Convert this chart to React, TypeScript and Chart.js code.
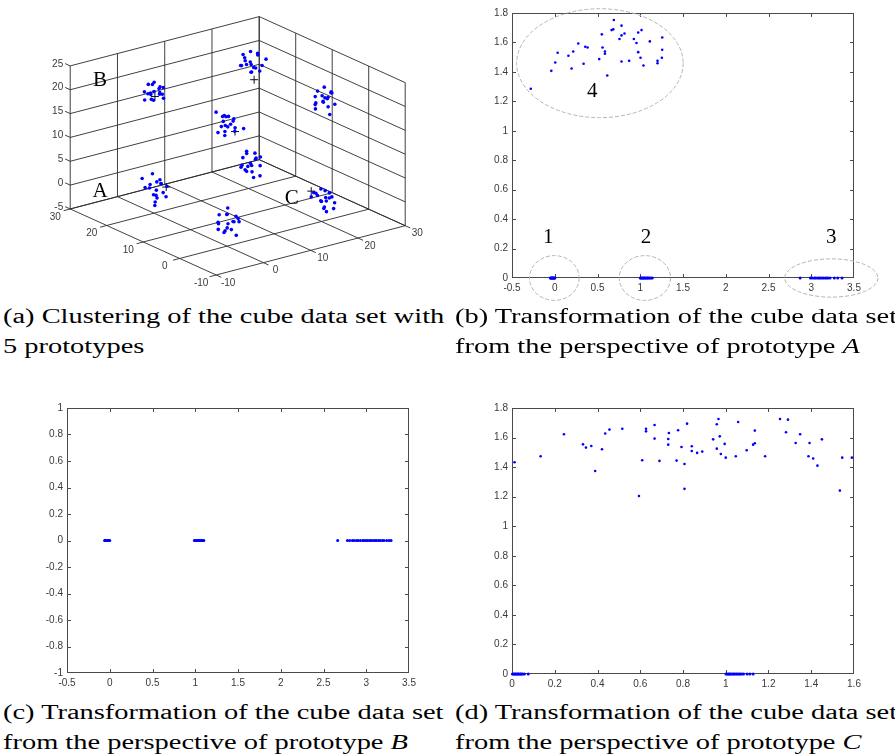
import React, { useEffect, useRef, useMemo } from "react";
import { Chart, registerables } from "chart.js";
Chart.register(...registerables);

// ---------------- DATA ----------------
// (a) 3-D cube data set: eight clusters (x, y, z)
const clusterA = [[-1.2,19.5,1.5],[0.3,20.8,2.9],[0.9,19.2,1.2],[-0.5,18.7,0.4],[1.8,20.4,0.6],[0.2,21.5,-0.3],[-1.8,20.1,0.8],[1.1,18.9,-0.6],[0.6,20.2,-1.5],[-0.4,19.6,-0.9],[2.4,19.8,-2.1],[1.5,21.1,-2.6],[-0.9,18.5,-1.9],[0.1,19.9,-3.4],[3.2,20.6,-0.4],[-1.5,21.3,2.2],[0.8,19.4,2.0],[1.3,20.9,0.9]];
const clusterO = [[0.4,0.3,2.8],[-0.6,-0.8,2.1],[0.9,1.2,1.0],[-1.5,0.5,0.2],[0.2,-1.4,0.6],[1.8,0.4,-0.5],[-0.4,1.8,-0.8],[0.7,-0.3,-1.6],[-1.1,-0.9,-1.2],[2.1,-0.6,-0.2],[0.0,0.8,-2.4],[1.2,1.5,-2.0],[-2.0,-0.2,-0.9],[0.5,-1.9,-2.2],[1.5,-1.1,0.8],[-0.8,1.1,1.4],[2.6,0.9,0.3],[0.3,0.1,-0.4]];
const clusterC = [[20.5,0.8,1.4],[21.2,-0.6,0.9],[19.4,0.3,0.5],[20.1,-1.2,-0.3],[21.8,0.2,-0.6],[19.0,1.5,-0.1],[20.7,1.1,-1.2],[22.4,-0.5,-1.5],[19.8,-0.9,-1.9],[21.0,0.5,-2.4],[20.3,1.9,0.2],[22.9,0.9,-0.9],[19.5,-1.8,0.8],[21.5,-1.4,-2.2],[20.0,0.0,-0.8],[18.9,0.7,1.1],[22.0,1.6,0.4],[20.9,-0.2,-3.1]];
const clusterD = [[19.2,20.5,1.5],[20.4,21.0,1.9],[21.3,19.6,1.2],[19.8,19.2,0.6],[22.1,20.8,0.3],[18.7,20.1,0.2],[20.9,20.3,-0.5],[21.7,19.0,-0.3],[19.5,21.4,-0.9],[20.6,19.8,-1.6],[22.6,20.1,0.9],[20.0,18.6,-2.2],[21.1,21.6,-1.2],[18.9,19.5,-0.6],[21.9,19.3,-2.6],[20.3,20.9,2.4],[19.6,20.0,-1.3],[22.3,21.2,1.4]];
const clusterE = [[-1.6,0.9,23.2],[-0.5,-0.4,22.4],[0.8,0.6,21.8],[-1.2,-1.1,21.0],[1.6,0.2,21.2],[0.3,1.4,20.6],[-0.8,0.5,20.1],[1.1,-0.8,19.8],[-1.9,0.0,19.3],[0.5,-1.5,19.5],[2.0,0.9,20.4],[-0.2,0.3,19.0],[1.4,1.6,19.1],[-1.0,-0.7,18.7],[3.3,-0.3,18.9],[0.0,-1.0,20.9],[0.9,1.9,21.5],[-0.3,0.8,22.0]];
const clusterB = [[-0.8,19.4,22.4],[0.5,20.6,22.1],[-0.2,21.3,21.6],[1.2,19.9,21.2],[-1.5,19.0,20.9],[0.3,18.8,20.6],[1.7,20.8,20.4],[-0.9,20.5,20.1],[0.8,19.5,19.9],[-2.2,19.7,19.4],[0.1,21.0,19.5],[1.4,19.2,19.0],[-0.4,20.2,18.9],[2.0,20.3,19.3],[0.6,20.9,18.2],[-1.1,21.2,20.3],[0.9,18.6,21.6],[-0.3,19.6,20.7]];
const clusterF = [[19.4,20.7,23.0],[20.6,20.2,23.5],[21.5,19.4,22.8],[19.0,19.6,22.2],[20.2,21.3,21.9],[22.4,20.6,22.5],[19.8,19.0,21.4],[21.0,20.8,21.0],[18.6,20.1,21.1],[20.9,19.2,20.3],[22.8,19.9,20.1],[19.5,21.5,20.4],[21.8,20.9,19.6],[20.3,19.7,19.4],[23.1,19.2,21.6],[21.6,21.2,18.6],[19.9,20.4,20.9],[22.0,19.5,19.3]];
const clusterG = [[20.9,0.4,22.8],[21.6,-0.6,22.0],[20.1,1.2,21.9],[19.3,0.8,21.1],[22.2,0.0,21.4],[20.5,-0.3,20.9],[21.3,1.5,20.5],[19.7,-0.9,20.4],[22.7,0.9,21.0],[20.8,0.6,19.8],[18.9,0.3,19.7],[21.9,-1.2,19.5],[20.2,1.8,19.2],[21.1,-0.4,18.9],[19.5,1.0,18.4],[22.4,1.3,20.0],[20.6,-1.5,17.8],[21.4,0.2,20.3]];
const prototypes = [[2.6,20,-0.2],[0.2,20,19.4],[1.7,0,18.6],[21.2,20,17.5],[20,2.8,0.4]];
const protoLabels = ["A", "B", "C"];
const protoLabelAnchors = [[-3.7,30,-3],[-3.7,30,20.3],[22.9,11.9,-5]];
const cubeXTicks = [-10, 0, 10, 20, 30];
const cubeYTicks = [-10, 0, 10, 20, 30];
const cubeZTicks = [-5, 0, 5, 10, 15, 20, 25];

// (b) perspective of prototype A
const bTopX = [-0.28,-0.04,0.006,0.034,0.16,0.197,0.216,0.275,0.337,0.357,0.384,0.52,0.551,0.559,0.587,0.587,0.614,0.665,0.685,0.691,0.757,0.781,0.781,0.781,0.816,0.87,0.925,0.956,0.976,0.976,1.003,1.015,1.038,1.112,1.202,1.202,1.253,1.257,1.257];
const bTopY = [1.285,1.407,1.464,1.53,1.51,1.423,1.539,1.593,1.455,1.571,1.566,1.487,1.655,1.566,1.539,1.523,1.375,1.684,1.689,1.752,1.623,1.714,1.648,1.471,1.661,1.475,1.623,1.596,1.668,1.534,1.496,1.684,1.443,1.607,1.475,1.459,1.496,1.634,1.55];
const bRowX = [-0.052,-0.046,-0.041,-0.033,-0.029,-0.022,-0.017,-0.011,-0.004,0.002,1.0,1.008,1.017,1.029,1.036,1.048,1.055,1.067,1.079,1.088,1.097,1.112,1.126,1.141,2.87,2.99,3.01,3.035,3.05,3.072,3.09,3.104,3.125,3.14,3.162,3.18,3.196,3.22,3.27,3.31,3.36];
const bXTicks = [-0.5, 0, 0.5, 1, 1.5, 2, 2.5, 3, 3.5];
const bYTicks = [0, 0.2, 0.4, 0.6, 0.8, 1, 1.2, 1.4, 1.6, 1.8];
const bGroupLabels = ["1", "2", "3", "4"];
const bGroupCx = [-0.005, 1.054, 3.235, 0.528];
const bGroupCy = [0, 0, 0, 1.459];
const bGroupRx = [0.29, 0.30, 0.545, 0.974];
const bGroupRy = [0.152, 0.152, 0.13, 0.37];
const bLabelX = [-0.075, 1.066, 3.235, 0.44];
const bLabelY = [0.274, 0.274, 0.274, 1.27];

// (c) perspective of prototype B
const cRowX = [-0.06,-0.053,-0.046,-0.041,-0.034,-0.027,-0.021,-0.013,-0.007,0.0,0.99,1.001,1.012,1.024,1.033,1.045,1.056,1.068,1.077,1.091,1.1,2.666,2.78,2.806,2.838,2.857,2.884,2.905,2.931,2.958,2.976,2.998,3.017,3.04,3.058,3.081,3.102,3.119,3.143,3.162,3.188,3.207,3.238,3.266,3.29];
const cXTicks = [-0.5, 0, 0.5, 1, 1.5, 2, 2.5, 3, 3.5];
const cYTicks = [-1, -0.8, -0.6, -0.4, -0.2, 0, 0.2, 0.4, 0.6, 0.8, 1];

// (d) perspective of prototype C
const dTopX = [0.012,0.134,0.243,0.332,0.346,0.371,0.389,0.421,0.436,0.456,0.516,0.594,0.609,0.627,0.627,0.667,0.667,0.690,0.731,0.731,0.734,0.770,0.777,0.793,0.807,0.807,0.819,0.841,0.841,0.866,0.890,0.941,0.958,0.958,0.966,0.972,0.977,0.995,1.000,1.047,1.058,1.098,1.128,1.136,1.136,1.184,1.254,1.282,1.291,1.327,1.348,1.387,1.392,1.409,1.429,1.450,1.534,1.545,1.590];
const dTopY = [1.433,1.473,1.622,1.554,1.532,1.543,1.374,1.521,1.627,1.654,1.660,1.205,1.446,1.660,1.642,1.685,1.593,1.442,1.552,1.590,1.631,1.444,1.649,1.536,1.421,1.253,1.694,1.541,1.509,1.496,1.505,1.588,1.690,1.525,1.726,1.608,1.489,1.557,1.464,1.473,1.705,1.514,1.552,1.561,1.647,1.473,1.726,1.636,1.721,1.563,1.622,1.473,1.563,1.458,1.410,1.588,1.241,1.464,1.464];
const dRowX = [0.002,0.006,0.011,0.015,0.019,0.024,0.028,0.031,0.037,0.041,0.045,0.05,0.058,0.076,1.001,1.006,1.012,1.016,1.021,1.027,1.034,1.038,1.044,1.051,1.056,1.063,1.068,1.075,1.083,1.1,1.113,1.128];
const dXTicks = [0, 0.2, 0.4, 0.6, 0.8, 1, 1.2, 1.4, 1.6];
const dYTicks = [0, 0.2, 0.4, 0.6, 0.8, 1, 1.2, 1.4, 1.6, 1.8];

const captions = [
  { left: 3, top: 301, lines: [["(a) Clustering of the cube data set with"], ["5 prototypes"]] },
  { left: 455, top: 301, lines: [["(b) Transformation of the cube data set"], ["from the perspective of prototype ", "A"]] },
  { left: 3, top: 697, lines: [["(c) Transformation of the cube data set"], ["from the perspective of prototype ", "B"]] },
  { left: 455, top: 697, lines: [["(d) Transformation of the cube data set"], ["from the perspective of prototype ", "C"]] },
];

// ---------------- STYLE ----------------
const SANS = "'Liberation Sans', Arial, sans-serif";
const SERIF = "'Liberation Serif', 'Times New Roman', serif";
const BLUE = "#0000ff";
const TICK_COLOR = "#3a3a3a";

// 3-D view (MATLAB-like default view)
const AX3 = { xMin: -10, xMax: 30, yMin: -10, yMax: 30, zMin: -5, zMax: 25 };
const VIEW = { ox: 216, oy: 279.3, ux: 193.3, uy: -51, vx: -149.3, vy: -68.3, wz: -148 };
function proj(x: number, y: number, z: number) {
  const u = (x - AX3.xMin) / (AX3.xMax - AX3.xMin);
  const v = (y - AX3.yMin) / (AX3.yMax - AX3.yMin);
  const w = (z - AX3.zMin) / (AX3.zMax - AX3.zMin);
  return { x: VIEW.ox + u * VIEW.ux + v * VIEW.vx, y: VIEW.oy + u * VIEW.uy + v * VIEW.vy + w * VIEW.wz };
}

const cubePlugin = {
  id: "cube3d",
  beforeDatasetsDraw(chart: any) {
    const ctx = chart.ctx;
    const sx = chart.scales.x, sy = chart.scales.y;
    const P = (x: number, y: number, z: number) => {
      const p = proj(x, y, z);
      return [sx.getPixelForValue(p.x), sy.getPixelForValue(p.y)];
    };
    const line = (a: number[], b: number[]) => {
      ctx.beginPath(); ctx.moveTo(a[0], a[1]); ctx.lineTo(b[0], b[1]); ctx.stroke();
    };
    ctx.save();
    ctx.strokeStyle = "#2b2b2b";
    ctx.lineWidth = 0.9;
    const { xMin, xMax, yMin, yMax, zMin, zMax } = AX3;
    cubeZTicks.forEach(z => line(P(xMin, yMax, z), P(xMax, yMax, z)));
    cubeXTicks.forEach(x => line(P(x, yMax, zMin), P(x, yMax, zMax)));
    cubeZTicks.forEach(z => line(P(xMax, yMax, z), P(xMax, yMin, z)));
    cubeYTicks.forEach(y => line(P(xMax, y, zMin), P(xMax, y, zMax)));
    cubeXTicks.forEach(x => line(P(x, yMin, zMin), P(x, yMax, zMin)));
    cubeYTicks.forEach(y => line(P(xMin, y, zMin), P(xMax, y, zMin)));
    cubeZTicks.forEach(z => line(P(xMin, yMax, z), P(xMin, yMax + 1.4, z)));
    cubeXTicks.forEach(x => line(P(x, yMin, zMin), P(x, yMin - 1.4, zMin)));
    cubeYTicks.forEach(y => line(P(xMin, y, zMin), P(xMin - 1.4, y, zMin)));
    ctx.fillStyle = TICK_COLOR;
    ctx.font = `10px ${SANS}`;
    ctx.textBaseline = "middle";
    ctx.textAlign = "right";
    cubeZTicks.forEach(z => { const p = P(xMin, yMax, z); ctx.fillText(String(z), p[0] - 7, p[1] - 2); });
    ctx.textAlign = "center";
    cubeYTicks.forEach(y => { const p = P(xMin, y, zMin); ctx.fillText(String(y), p[0] - 15, p[1] + 8); });
    cubeXTicks.forEach(x => { const p = P(x, yMin, zMin); ctx.fillText(String(x), p[0] + 12, p[1] + 8); });
    ctx.restore();
  },
  afterDatasetsDraw(chart: any) {
    const ctx = chart.ctx;
    const sx = chart.scales.x, sy = chart.scales.y;
    ctx.save();
    ctx.fillStyle = "#000";
    ctx.font = `21px ${SERIF}`;
    ctx.textAlign = "center";
    ctx.textBaseline = "middle";
    protoLabels.forEach((t, i) => {
      const a = protoLabelAnchors[i];
      const p = proj(a[0], a[1], a[2]);
      ctx.fillText(t, sx.getPixelForValue(p.x), sy.getPixelForValue(p.y));
    });
    ctx.restore();
  },
};

const matlabBox = {
  id: "matlabBox",
  beforeDatasetsDraw(chart: any) {
    const { ctx, chartArea } = chart;
    const L = Math.round(chartArea.left) + 0.5, R = Math.round(chartArea.right) - 0.5;
    const T = Math.round(chartArea.top) + 0.5, B = Math.round(chartArea.bottom) - 0.5;
    const xs = chart.scales.x, ys = chart.scales.y;
    ctx.save();
    ctx.strokeStyle = "#4a4a4a";
    ctx.lineWidth = 1;
    ctx.strokeRect(L, T, R - L, B - T);
    const tl = 3.5;
    ctx.beginPath();
    xs.ticks.forEach((t: any) => {
      const px = Math.round(xs.getPixelForValue(t.value)) + 0.5;
      if (px <= L + 1 || px >= R - 1) return;
      ctx.moveTo(px, B); ctx.lineTo(px, B - tl);
      ctx.moveTo(px, T); ctx.lineTo(px, T + tl);
    });
    ys.ticks.forEach((t: any) => {
      const py = Math.round(ys.getPixelForValue(t.value)) + 0.5;
      if (py <= T + 1 || py >= B - 1) return;
      ctx.moveTo(L, py); ctx.lineTo(L + tl, py);
      ctx.moveTo(R, py); ctx.lineTo(R - tl, py);
    });
    ctx.stroke();
    ctx.restore();
  },
};

const groupPlugin = {
  id: "groups",
  afterDatasetsDraw(chart: any) {
    const { ctx } = chart;
    const xs = chart.scales.x, ys = chart.scales.y;
    ctx.save();
    ctx.strokeStyle = "#b4b4b4";
    ctx.lineWidth = 1;
    ctx.setLineDash([4, 2]);
    bGroupCx.forEach((cx, i) => {
      const px = xs.getPixelForValue(cx), py = ys.getPixelForValue(bGroupCy[i]);
      const rx = Math.abs(xs.getPixelForValue(cx + bGroupRx[i]) - px);
      const ry = Math.abs(ys.getPixelForValue(bGroupCy[i] + bGroupRy[i]) - py);
      ctx.beginPath();
      ctx.ellipse(px, py, rx, ry, 0, 0, Math.PI * 2);
      ctx.stroke();
    });
    ctx.setLineDash([]);
    ctx.fillStyle = "#000";
    ctx.font = `21px ${SERIF}`;
    ctx.textAlign = "center";
    ctx.textBaseline = "middle";
    bGroupLabels.forEach((t, i) => {
      ctx.fillText(t, xs.getPixelForValue(bLabelX[i]), ys.getPixelForValue(bLabelY[i]));
    });
    ctx.restore();
  },
};

function toPts(xs: number[], ys: number[] | null) {
  return xs.map((x, i) => ({ x, y: ys ? ys[i] : 0 }));
}

function make2D(opts: {
  top: { x: number; y: number }[];
  row: { x: number; y: number }[];
  xTicks: number[]; yTicks: number[];
  yAxisW: number; xAxisH: number; padTop: number; padRight: number;
  plugins?: any[];
}) {
  const tickFont = { family: SANS, size: 10 };
  return {
    type: "scatter",
    data: {
      datasets: [
        { data: opts.top, pointRadius: 1.3, pointBackgroundColor: BLUE, pointBorderWidth: 0, showLine: false, clip: false },
        { data: opts.row, pointRadius: 1.5, pointBackgroundColor: BLUE, pointBorderWidth: 0, showLine: false, clip: false },
      ],
    },
    options: {
      animation: false,
      responsive: false,
      devicePixelRatio: 1,
      layout: { padding: { top: opts.padTop, right: opts.padRight, left: 0, bottom: 0 } },
      plugins: { legend: { display: false }, tooltip: { enabled: false } },
      scales: {
        x: {
          type: "linear",
          min: opts.xTicks[0], max: opts.xTicks[opts.xTicks.length - 1],
          afterBuildTicks: (s: any) => { s.ticks = opts.xTicks.map(v => ({ value: v })); },
          afterFit: (s: any) => { s.height = opts.xAxisH; },
          ticks: { callback: (v: any) => String(v), font: tickFont, color: TICK_COLOR, padding: 4, maxRotation: 0, autoSkip: false },
          grid: { display: false, drawTicks: false },
          border: { display: false },
        },
        y: {
          type: "linear",
          min: opts.yTicks[0], max: opts.yTicks[opts.yTicks.length - 1],
          afterBuildTicks: (s: any) => { s.ticks = opts.yTicks.map(v => ({ value: v })); },
          afterFit: (s: any) => { s.width = opts.yAxisW; },
          ticks: { callback: (v: any) => String(v), font: tickFont, color: TICK_COLOR, padding: 4, autoSkip: false },
          grid: { display: false, drawTicks: false },
          border: { display: false },
        },
      },
    },
    plugins: [matlabBox, ...(opts.plugins || [])],
  };
}

function build3D() {
  const all = [clusterA, clusterO, clusterC, clusterD, clusterE, clusterB, clusterF, clusterG].flat();
  const pts = all.map(p => proj(p[0], p[1], p[2]));
  const protos = prototypes.map(p => proj(p[0], p[1], p[2]));
  return {
    type: "scatter",
    data: {
      datasets: [
        { data: pts, pointRadius: 1.8, pointBackgroundColor: BLUE, pointBorderWidth: 0, showLine: false },
        { data: protos, pointStyle: "cross", pointRadius: 4, borderColor: "#111", pointBorderColor: "#111", pointBorderWidth: 1, showLine: false },
      ],
    },
    options: {
      animation: false,
      responsive: false,
      devicePixelRatio: 1,
      layout: { padding: 0 },
      plugins: { legend: { display: false }, tooltip: { enabled: false } },
      scales: {
        x: { type: "linear", display: false, min: 0, max: 450 },
        y: { type: "linear", display: false, min: 0, max: 300, reverse: true },
      },
    },
    plugins: [cubePlugin],
  };
}

function ChartPanel({ left, top, width, height, build }: any) {
  const ref = useRef<HTMLCanvasElement>(null);
  useEffect(() => {
    const chart = new Chart(ref.current as HTMLCanvasElement, build());
    return () => chart.destroy();
  }, []);
  return (
    <canvas ref={ref} width={width} height={height}
      style={{ position: "absolute", left, top, width, height }} />
  );
}

const CAPTION_SIZE = 20;
const CAPTION_TARGET_W = 441;

export default function App() {
  const scale = useMemo(() => {
    const c = document.createElement("canvas").getContext("2d");
    if (!c) return 1.15;
    c.font = `${CAPTION_SIZE}px ${SERIF}`;
    const w = c.measureText("(c) Transformation of the cube data set").width;
    return w > 0 ? CAPTION_TARGET_W / w : 1.15;
  }, []);

  return (
    <div style={{ position: "absolute", left: 0, top: 0, width: 895, height: 754, background: "#fff", overflow: "hidden" }}>
      <ChartPanel left={0} top={0} width={450} height={300} build={build3D} />
      <ChartPanel left={480} top={0} width={412} height={302}
        build={() => make2D({ top: toPts(bTopX, bTopY), row: toPts(bRowX, null), xTicks: bXTicks, yTicks: bYTicks, yAxisW: 32, xAxisH: 24, padTop: 13, padRight: 38, plugins: [groupPlugin] })} />
      <ChartPanel left={20} top={395} width={420} height={300}
        build={() => make2D({ top: [], row: toPts(cRowX, null), xTicks: cXTicks, yTicks: cYTicks, yAxisW: 47, xAxisH: 22, padTop: 13, padRight: 31 })} />
      <ChartPanel left={480} top={395} width={412} height={300}
        build={() => make2D({ top: toPts(dTopX, dTopY), row: toPts(dRowX, null), xTicks: dXTicks, yTicks: dYTicks, yAxisW: 32, xAxisH: 21, padTop: 13, padRight: 38 })} />
      {captions.map((cap, i) => (
        <div key={i} style={{
          position: "absolute", left: cap.left, top: cap.top,
          fontFamily: SERIF, fontSize: CAPTION_SIZE, lineHeight: "30px", color: "#000",
          whiteSpace: "pre", transform: `scaleX(${scale})`, transformOrigin: "left top",
        }}>
          {cap.lines.map((ln, j) => (
            <div key={j}>{ln[0]}{ln[1] ? <i>{ln[1]}</i> : null}</div>
          ))}
        </div>
      ))}
    </div>
  );
}
